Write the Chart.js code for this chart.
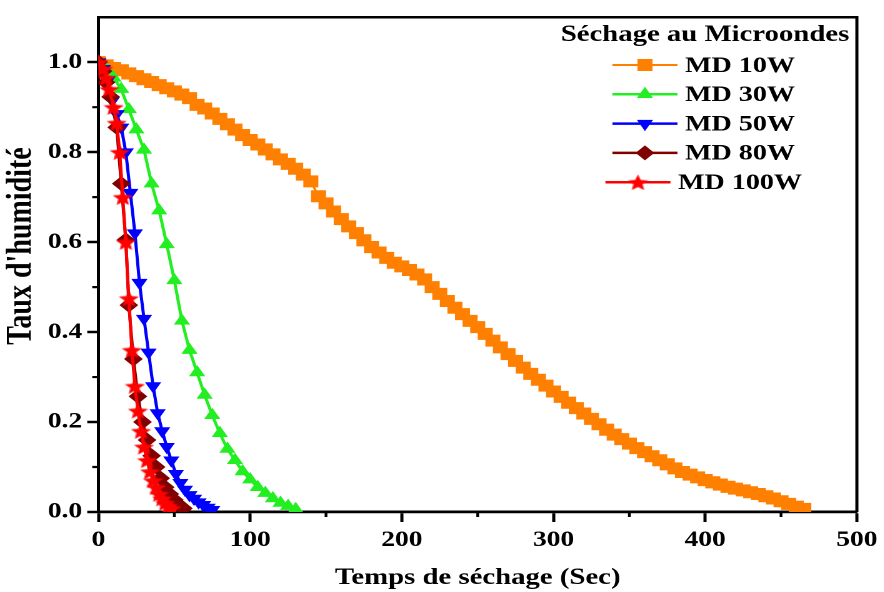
<!DOCTYPE html>
<html>
<head>
<meta charset="utf-8">
<script src="https://cdn.jsdelivr.net/npm/chart.js@4"></script>
<style>
  html, body { margin: 0; padding: 0; background: #fff; overflow: hidden; }
  #wrap { width: 707px; height: 592px; transform: scaleX(1.25); transform-origin: 0 0; }
</style>
</head>
<body>
<div id="wrap"><canvas id="dryChart"></canvas></div>
<script>
const seriesNames = ['MD 10W', 'MD 30W', 'MD 50W', 'MD 80W', 'MD 100W'];
const legendTitle = 'Séchage au Microondes';
const xTitle = 'Temps de séchage (Sec)';
const yTitle = "Taux d'humidité";

// MD 10W
const t10 = [0, 5, 10, 15, 20, 25, 30, 35, 40, 45, 50, 55, 60, 65, 70, 75, 80, 85, 90, 95,
  100, 105, 110, 115, 120, 125, 130, 135, 140, 145, 150, 155, 160, 165, 170, 175, 180, 185, 190, 195,
  200, 205, 210, 215, 220, 225, 230, 235, 240, 245, 250, 255, 260, 265, 270, 275, 280, 285, 290, 295,
  300, 305, 310, 315, 320, 325, 330, 335, 340, 345, 350, 355, 360, 365, 370, 375, 380, 385, 390, 395,
  400, 405, 410, 415, 420, 425, 430, 435, 440, 445, 450, 455, 460, 465];
const y10 = [1.000, 0.993, 0.987, 0.982, 0.975, 0.969, 0.962, 0.956, 0.949, 0.942, 0.935, 0.928, 0.920, 0.905, 0.897, 0.886, 0.874, 0.862, 0.850, 0.838,
  0.827, 0.817, 0.806, 0.795, 0.784, 0.774, 0.763, 0.750, 0.735, 0.702, 0.686, 0.668, 0.651, 0.635, 0.620, 0.604, 0.589, 0.577, 0.565, 0.554,
  0.546, 0.538, 0.528, 0.517, 0.500, 0.485, 0.469, 0.454, 0.440, 0.425, 0.411, 0.396, 0.381, 0.366, 0.351, 0.336, 0.321, 0.307, 0.294, 0.281,
  0.268, 0.256, 0.243, 0.231, 0.219, 0.207, 0.195, 0.183, 0.172, 0.162, 0.152, 0.142, 0.133, 0.124, 0.115, 0.106, 0.097, 0.089, 0.083, 0.077,
  0.071, 0.066, 0.061, 0.056, 0.052, 0.048, 0.044, 0.040, 0.035, 0.030, 0.024, 0.018, 0.012, 0.007];

// MD 30W
const t30 = [0, 5, 10, 15, 20, 25, 30, 35, 40, 45, 50, 55, 60, 65, 70, 75, 80, 85, 90, 95, 100, 105, 110, 115, 120, 125, 130];
const y30 = [1.0, 0.985, 0.965, 0.94, 0.895, 0.85, 0.805, 0.73, 0.67, 0.595, 0.515, 0.425, 0.36, 0.31, 0.26, 0.215, 0.175, 0.14, 0.115, 0.09, 0.072, 0.055, 0.042, 0.03, 0.02, 0.013, 0.006];

// MD 50W
const t50 = [0, 3, 6, 9, 12, 15, 18, 21, 24, 27, 30, 33, 36, 39, 42, 45, 48, 51, 54, 57, 60, 63, 66, 69, 72, 75];
const y50 = [1.0, 0.985, 0.96, 0.915, 0.885, 0.855, 0.80, 0.71, 0.62, 0.51, 0.43, 0.355, 0.28, 0.22, 0.18, 0.145, 0.115, 0.085, 0.065, 0.05, 0.038, 0.03, 0.022, 0.016, 0.01, 0.005];

// MD 80W
const t80 = [0, 3, 5, 8, 12, 15, 18, 20, 23, 26, 29, 32, 35, 38, 41, 44, 47, 50, 53, 56];
const y80 = [1.0, 0.98, 0.955, 0.923, 0.855, 0.73, 0.605, 0.46, 0.34, 0.257, 0.20, 0.16, 0.125, 0.10, 0.075, 0.055, 0.04, 0.027, 0.016, 0.008];

// MD 100W
const t100 = [0, 3, 5, 7, 10, 12, 14, 16, 18, 20, 22, 24, 26, 28, 30, 32, 34, 36, 38, 40, 42, 44, 46, 48];
const y100 = [1.0, 0.985, 0.965, 0.94, 0.90, 0.865, 0.80, 0.70, 0.60, 0.475, 0.36, 0.28, 0.225, 0.18, 0.145, 0.115, 0.09, 0.07, 0.055, 0.04, 0.03, 0.02, 0.013, 0.008];

const xTicks = [0, 100, 200, 300, 400, 500];
const yTicks = [0.0, 0.2, 0.4, 0.6, 0.8, 1.0];

const FONT = "'Liberation Serif', 'Times New Roman', serif";

// filled five-point star used as marker
function makeStar(size, color) {
  const c = document.createElement('canvas');
  c.width = size; c.height = size;
  const g = c.getContext('2d');
  const cx = size / 2, cy = size / 2 + size * 0.05;
  const R = size / 2, r = R * 0.45;
  g.beginPath();
  for (let i = 0; i < 10; i++) {
    const a = -Math.PI / 2 + i * Math.PI / 5;
    const rad = i % 2 === 0 ? R : r;
    g.lineTo(cx + rad * Math.cos(a), cy + rad * Math.sin(a));
  }
  g.closePath();
  g.fillStyle = color;
  g.fill();
  return c;
}
const starRed = makeStar(17, '#FF0000');

const pts = (t, v) => t.map((x, i) => ({ x, y: v[i] }));

const styles = [
  { color: '#FF8000', pointStyle: 'rect', radius: 8.5, rotation: 0, lw: 2, order: 5 },
  { color: '#22EE22', pointStyle: 'triangle', radius: 7.5, rotation: 0, lw: 2.5, order: 4 },
  { color: '#0000FF', pointStyle: 'triangle', radius: 7.5, rotation: 180, lw: 2.5, order: 3 },
  { color: '#800000', pointStyle: 'rectRot', radius: 7.5, rotation: 0, lw: 2.5, order: 2 },
  { color: '#FF0000', pointStyle: starRed, radius: 8, rotation: 0, lw: 2.5, order: 1 }
];
const seriesData = [pts(t10, y10), pts(t30, y30), pts(t50, y50), pts(t80, y80), pts(t100, y100)];

const datasets = seriesNames.map((name, i) => ({
  label: name,
  data: seriesData[i],
  borderColor: styles[i].color,
  backgroundColor: styles[i].color,
  borderWidth: styles[i].lw,
  pointStyle: styles[i].pointStyle,
  pointRadius: styles[i].radius,
  pointRotation: styles[i].rotation,
  pointBorderWidth: 0,
  pointHoverRadius: styles[i].radius,
  order: styles[i].order,
  tension: 0,
  fill: false
}));

// top/right frame, minor ticks, y title and the legend block
const decorations = {
  id: 'decorations',
  afterDraw(chart) {
    const ctx = chart.ctx;
    const a = chart.chartArea;
    ctx.save();
    ctx.strokeStyle = '#000';
    ctx.lineWidth = 2.5;
    ctx.beginPath();
    ctx.moveTo(a.left, a.top);
    ctx.lineTo(a.right, a.top);
    ctx.lineTo(a.right, a.bottom);
    ctx.stroke();

    // minor ticks halfway between the labelled ones
    const xs = chart.scales.x, ys = chart.scales.y;
    ctx.lineWidth = 2.2;
    ctx.beginPath();
    for (let i = 0; i < xs.ticks.length - 1; i++) {
      const px = xs.getPixelForValue((xs.ticks[i].value + xs.ticks[i + 1].value) / 2);
      ctx.moveTo(px, a.bottom);
      ctx.lineTo(px, a.bottom + 5);
    }
    for (let i = 0; i < ys.ticks.length - 1; i++) {
      const py = ys.getPixelForValue((ys.ticks[i].value + ys.ticks[i + 1].value) / 2);
      ctx.moveTo(a.left, py);
      ctx.lineTo(a.left - 5, py);
    }
    ctx.stroke();

    // y axis title
    ctx.fillStyle = '#000';
    ctx.textBaseline = 'middle';
    ctx.textAlign = 'center';
    ctx.font = 'bold 28px ' + FONT;
    ctx.save();
    ctx.translate(17.5, 246);
    ctx.rotate(-Math.PI / 2);
    ctx.fillText(yTitle, 0, 0);
    ctx.restore();

    // legend
    const cx = 563;
    ctx.font = 'bold 23px ' + FONT;
    ctx.fillText(legendTitle, cx + 1, 35);
    ctx.font = 'bold 22.5px ' + FONT;
    ctx.textAlign = 'left';
    const lineLen = 52, gap = 6;
    seriesNames.forEach((name, i) => {
      const y = 65 + i * 29.3;
      const tw = ctx.measureText(name).width;
      const x0 = cx - (lineLen + gap + tw) / 2;
      const st = styles[i];
      ctx.strokeStyle = st.color;
      ctx.lineWidth = st.lw;
      ctx.beginPath();
      ctx.moveTo(x0, y);
      ctx.lineTo(x0 + lineLen, y);
      ctx.stroke();
      ctx.fillStyle = st.color;
      Chart.helpers.drawPoint(ctx, { pointStyle: st.pointStyle, radius: st.radius, rotation: st.rotation, borderWidth: 0 }, x0 + lineLen / 2, y);
      ctx.fillStyle = '#000';
      ctx.fillText(name, x0 + lineLen + gap, y + 1);
    });
    ctx.restore();
  }
};

new Chart(document.getElementById('dryChart'), {
  type: 'line',
  data: { datasets },
  options: {
    responsive: true,
    maintainAspectRatio: false,
    animation: false,
    devicePixelRatio: 2,
    layout: { padding: { top: 11, right: 19, left: 0, bottom: 0 } },
    plugins: {
      legend: { display: false },
      tooltip: { enabled: false }
    },
    scales: {
      x: {
        type: 'linear',
        min: xTicks[0],
        max: xTicks[xTicks.length - 1],
        afterFit: s => { s.height = 80; },
        afterBuildTicks: s => { s.ticks = xTicks.map(v => ({ value: v })); },
        border: { display: true, color: '#000', width: 2.8 },
        grid: { drawOnChartArea: false, drawTicks: true, tickLength: 10, tickWidth: 2.5, tickColor: '#000' },
        ticks: { color: '#000', padding: 5, font: { family: FONT, size: 22, weight: 'bold' }, maxRotation: 0 },
        title: { display: true, text: xTitle, color: '#000', padding: { top: 0, bottom: 0 }, font: { family: FONT, size: 23, weight: 'bold' } }
      },
      y: {
        type: 'linear',
        min: 0,
        max: 1.1,
        afterFit: s => { s.width = 78.8; },
        afterBuildTicks: s => { s.ticks = yTicks.map(v => ({ value: v })); },
        border: { display: true, color: '#000', width: 2.5 },
        grid: { drawOnChartArea: false, drawTicks: true, tickLength: 9, tickWidth: 2.5, tickColor: '#000' },
        ticks: { color: '#000', padding: 4, font: { family: FONT, size: 22, weight: 'bold' }, callback: v => v.toFixed(1) },
        title: { display: false }
      }
    }
  },
  plugins: [decorations]
});
</script>
</body>
</html>
